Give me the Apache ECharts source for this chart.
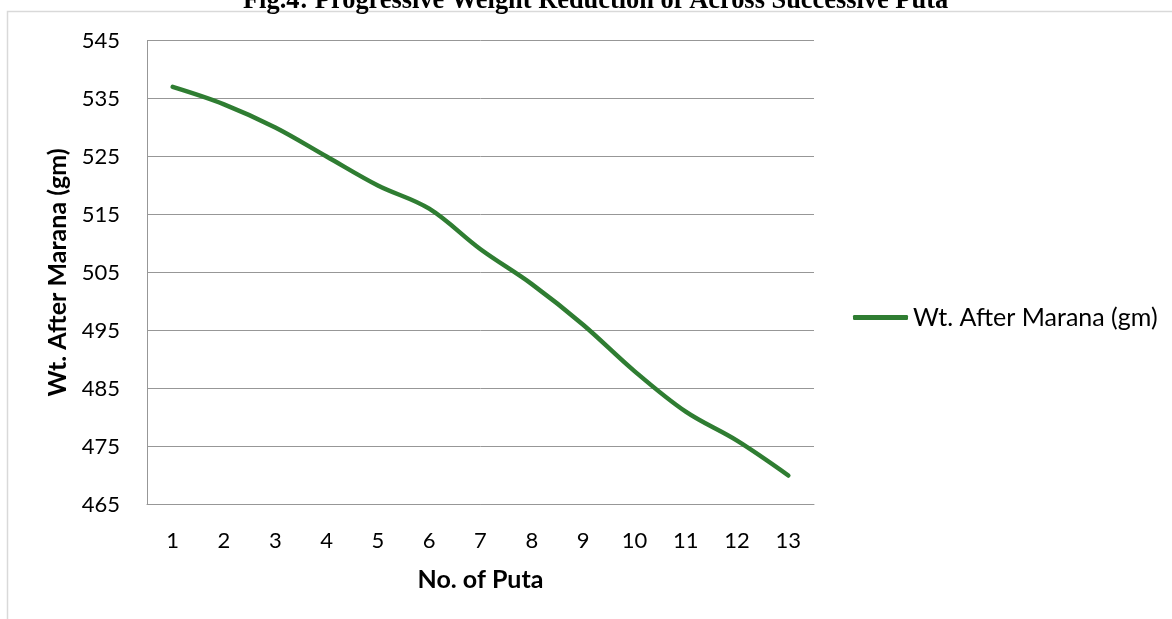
<!DOCTYPE html>
<html>
<head>
<meta charset="utf-8">
<script src="https://cdn.jsdelivr.net/npm/echarts@6/dist/echarts.min.js"></script>
<style>
  html, body { margin: 0; padding: 0; background: #ffffff; }
  #chart { width: 1172px; height: 619px; }
</style>
</head>
<body>
<div id="chart"></div>
<script>
// Weight remaining after each successive puta (gm)
const putaNumbers = ['1', '2', '3', '4', '5', '6', '7', '8', '9', '10', '11', '12', '13'];
const weightAfterMarana = [537, 534, 530, 525, 520, 516, 509, 503, 496, 488, 481, 476, 470];
const seriesName = 'Wt. After Marana (gm)';
const chartTitle = 'Fig.4: Progressive Weight Reduction of Across Successive Puta';
const yMin = 465, yMax = 545, yStep = 10;

const labelFont = 'Lato, "Open Sans", sans-serif';
const lineColor = '#2f7d32';
const gridColor = '#979797';

const chart = echarts.init(document.getElementById('chart'), null, { renderer: 'canvas' });

chart.setOption({
  backgroundColor: '#ffffff',
  animation: false,
  title: {
    text: chartTitle,
    left: 243,
    top: -12,
    padding: 0,
    textStyle: {
      fontFamily: '"Liberation Serif", "Times New Roman", serif',
      fontWeight: 'bold',
      fontSize: 26.4,
      color: '#000000'
    }
  },
  graphic: [{
    type: 'rect',
    silent: true,
    z: -1,
    shape: { x: 7.5, y: 11.5, width: 1300, height: 800 },
    style: { fill: 'none', stroke: '#d9d9d9', lineWidth: 1.5 }
  }],
  grid: {
    left: 147,
    top: 40.5,
    right: 358,
    bottom: 114.5,
    containLabel: false
  },
  legend: {
    data: [{ name: seriesName, icon: 'roundRect' }],
    left: 853,
    top: 305,
    padding: 0,
    itemWidth: 55,
    itemHeight: 5,
    textStyle: {
      fontFamily: labelFont,
      fontSize: 25,
      color: '#000000'
    }
  },
  xAxis: {
    type: 'category',
    data: putaNumbers,
    boundaryGap: true,
    name: 'No. of Puta',
    nameLocation: 'middle',
    nameGap: 63,
    nameTextStyle: {
      fontFamily: labelFont,
      fontWeight: 'bold',
      fontSize: 25,
      color: '#000000'
    },
    axisLine: { show: true, lineStyle: { color: gridColor, width: 1 } },
    axisTick: { show: false },
    axisLabel: {
      margin: 25,
      fontFamily: labelFont,
      fontSize: 22,
      color: '#000000'
    },
    splitLine: { show: false }
  },
  yAxis: {
    type: 'value',
    min: yMin,
    max: yMax,
    interval: yStep,
    name: 'Wt. After Marana (gm)',
    nameLocation: 'middle',
    nameGap: 74,
    nameRotate: 90,
    nameTextStyle: {
      fontFamily: labelFont,
      fontWeight: 'bold',
      fontSize: 25,
      color: '#000000'
    },
    axisLine: { show: true, lineStyle: { color: gridColor, width: 1 } },
    axisTick: { show: false },
    axisLabel: {
      margin: 27,
      fontFamily: labelFont,
      fontSize: 22,
      color: '#000000'
    },
    splitLine: { show: true, lineStyle: { color: gridColor, width: 1 } }
  },
  series: [{
    name: seriesName,
    type: 'line',
    data: weightAfterMarana,
    smooth: 0.35,
    showSymbol: false,
    symbol: 'none',
    color: lineColor,
    lineStyle: { color: lineColor, width: 4.5, cap: 'round', join: 'round' }
  }]
});
</script>
</body>
</html>
